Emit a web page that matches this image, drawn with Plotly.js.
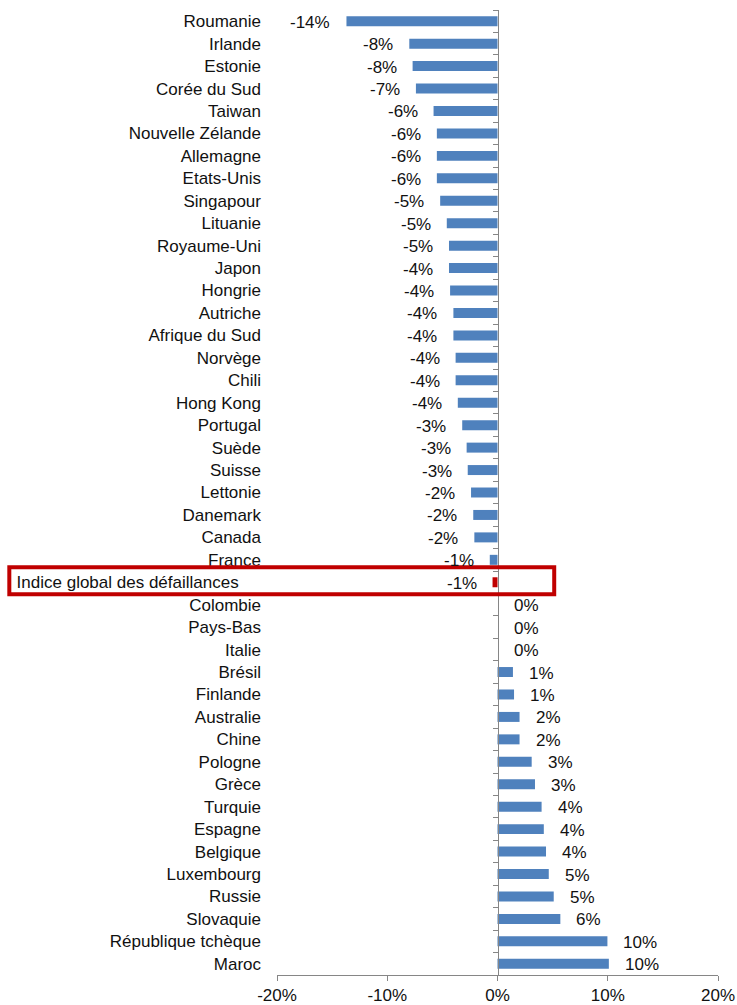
<!DOCTYPE html>
<html>
<head>
<meta charset="utf-8">
<script src="https://cdn.plot.ly/plotly-3.0.1.min.js"></script>
<style>html,body{margin:0;padding:0;background:#fff;}#chart{width:737px;height:1005px;}</style>
</head>
<body>
<div id="chart"></div>
<script>
const categories = ["Roumanie","Irlande","Estonie","Corée du Sud","Taiwan","Nouvelle Zélande","Allemagne","Etats-Unis","Singapour","Lituanie","Royaume-Uni","Japon","Hongrie","Autriche","Afrique du Sud","Norvège","Chili","Hong Kong","Portugal","Suède","Suisse","Lettonie","Danemark","Canada","France","Indice global des défaillances","Colombie","Pays-Bas","Italie","Brésil","Finlande","Australie","Chine","Pologne","Grèce","Turquie","Espagne","Belgique","Luxembourg","Russie","Slovaquie","République tchèque","Maroc"];
const values = [-13.7,-8.0,-7.7,-7.4,-5.8,-5.5,-5.5,-5.5,-5.2,-4.6,-4.4,-4.4,-4.3,-4.0,-4.0,-3.8,-3.8,-3.6,-3.2,-2.8,-2.7,-2.4,-2.2,-2.1,-0.7,-0.45,0,0,0,1.4,1.5,2.0,2.0,3.1,3.4,4.0,4.2,4.4,4.65,5.1,5.7,9.97,10.1];
const valueLabels = ["-14%","-8%","-8%","-7%","-6%","-6%","-6%","-6%","-5%","-5%","-5%","-4%","-4%","-4%","-4%","-4%","-4%","-4%","-3%","-3%","-3%","-2%","-2%","-2%","-1%","-1%","0%","0%","0%","1%","1%","2%","2%","3%","3%","4%","4%","4%","5%","5%","6%","10%","10%"];
const highlight = "Indice global des défaillances";
const xTicks = [-20,-10,0,10,20];

const blue = "#4F81BD", red = "#C00000", axisGray = "#868686";
const font = {family: "Liberation Sans, Arial, sans-serif", size: 17, color: "#111"};
const n = categories.length;

const bars = {
  type: "bar", orientation: "h",
  x: values, y: categories,
  marker: {color: categories.map(c => c === highlight ? red : blue)},
  hoverinfo: "skip", showlegend: false
};
const dummy = {
  type: "scatter", mode: "markers",
  x: categories.map(() => 0), y: categories, yaxis: "y2",
  marker: {opacity: 0}, hoverinfo: "skip", showlegend: false
};

const annotations = values.map((v, i) => ({
  x: v, y: categories[i], xref: "x", yref: "y",
  text: valueLabels[i], showarrow: false,
  xanchor: v < 0 ? "right" : "left",
  xshift: v < 0 ? -14 : 14,
  yshift: -1,
  font: font
}));

const hi = categories.indexOf(highlight);
const layout = {
  width: 737, height: 1005,
  margin: {l: 277, r: 19, t: 10, b: 30, pad: 0},
  paper_bgcolor: "#fff", plot_bgcolor: "#fff",
  font: font,
  bargap: 0.555,
  xaxis: {
    range: [-20, 20], tickvals: xTicks, ticktext: xTicks.map(t => t + "%"),
    showgrid: false, zeroline: false,
    showline: true, linecolor: axisGray, linewidth: 1,
    ticks: "outside", ticklen: 5, tickcolor: axisGray, tickwidth: 1,
    tickfont: font, fixedrange: true
  },
  yaxis: {
    type: "category", range: [n - 0.5, -0.5],
    tickmode: "array", tickvals: categories,
    ticktext: categories.map(c => c === highlight ? c + "\u00a0\u00a0\u00a0\u00a0\u2009" : c),
    showgrid: false, zeroline: false, showline: false,
    ticks: "", ticklabelstandoff: 15,
    tickfont: font, fixedrange: true
  },
  yaxis2: {
    type: "category", overlaying: "y", anchor: "free", position: 0.5,
    range: [n - 0.5, -0.5],
    showgrid: false, zeroline: false, showticklabels: false,
    showline: true, linecolor: axisGray, linewidth: 1,
    ticks: "outside", tickson: "boundaries", ticklen: 5, tickcolor: axisGray, tickwidth: 1,
    fixedrange: true
  },
  shapes: [{
    type: "rect", xref: "paper", yref: "y",
    x0: -0.607, x1: 0.6286, y0: hi - 0.67, y1: hi + 0.53,
    line: {color: red, width: 4}, fillcolor: "rgba(0,0,0,0)", layer: "above"
  }],
  annotations: annotations
};

Plotly.newPlot("chart", [bars, dummy], layout, {displayModeBar: false, staticPlot: true});
</script>
</body>
</html>
